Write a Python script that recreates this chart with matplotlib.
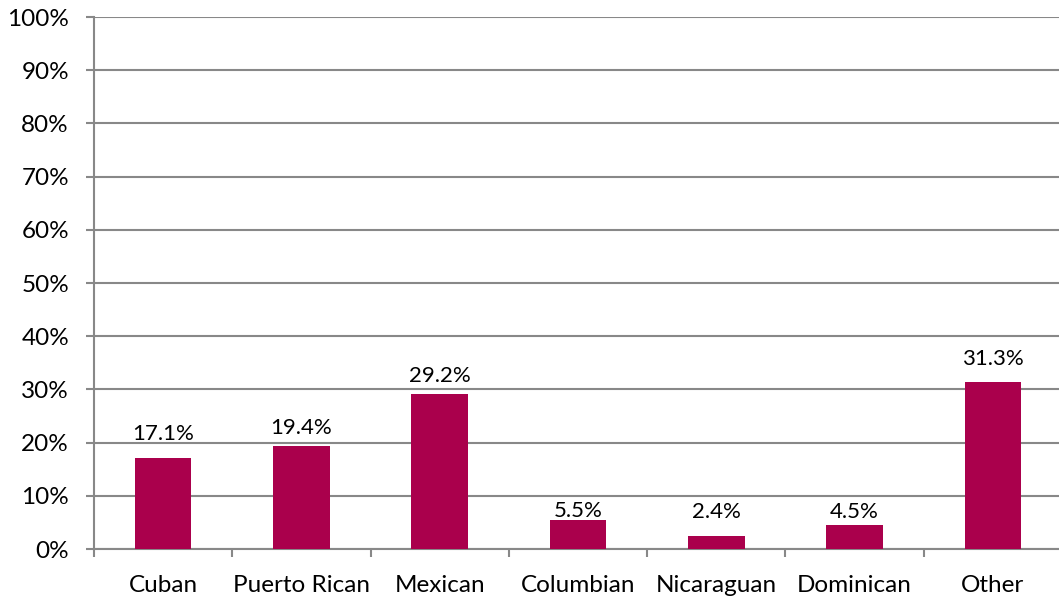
import matplotlib
matplotlib.use("Agg")
import matplotlib.pyplot as plt
from matplotlib.ticker import FixedLocator, NullFormatter, FixedFormatter

categories = ["Cuban", "Puerto Rican", "Mexican", "Columbian", "Nicaraguan", "Dominican", "Other"]
values = [17.1, 19.4, 29.2, 5.5, 2.4, 4.5, 31.3]
yticks = [0, 10, 20, 30, 40, 50, 60, 70, 80, 90, 100]
# gap (pixels) between bar top and label baseline, as placed in the original
label_gap_px = [18, 12, 12, 3, 18, 7, 17]

plt.rcParams['font.family'] = ['Lato', 'DejaVu Sans']
W, H = 1059, 596
fig = plt.figure(figsize=(W/100, H/100), dpi=100)
x0, x1, ytop, ybot = 94, 1062, 17, 549
ax = fig.add_axes([x0/W, 1 - ybot/H, (x1-x0)/W, (ybot-ytop)/H])

bar_color = "#AA004C"
grid_color = "#888888"
xs = list(range(len(categories)))
ax.bar(xs, values, width=0.41, color=bar_color, zorder=3)
for x, v, g in zip(xs, values, label_gap_px):
    ax.annotate(f"{v:.1f}%", (x, v), xytext=(0, g * 0.72), textcoords="offset points",
                ha="center", va="baseline", fontsize=16, color="black")

ax.set_xlim(-0.5, len(categories) - 0.5)
ax.set_ylim(0, 100)
ax.set_yticks(yticks)
ax.set_yticklabels([f"{t}%" for t in yticks], fontsize=17.5)
ax.yaxis.grid(True, color=grid_color, linewidth=1.5, zorder=0)
ax.tick_params(axis="y", length=6, width=1.5, color=grid_color, pad=12)

ax.xaxis.set_major_locator(FixedLocator(xs))
ax.xaxis.set_major_formatter(FixedFormatter(categories))
ax.xaxis.set_minor_locator(FixedLocator([i - 0.5 for i in range(len(categories) + 1)]))
ax.xaxis.set_minor_formatter(NullFormatter())
ax.tick_params(axis="x", which="major", length=0, pad=18.5, labelsize=17.5)
ax.tick_params(axis="x", which="minor", length=6, width=1.5, color=grid_color)

for s in ["top", "right"]:
    ax.spines[s].set_visible(False)
for s in ["left", "bottom"]:
    ax.spines[s].set_color(grid_color)
    ax.spines[s].set_linewidth(1.5)

fig.savefig("out.png", dpi=100)
